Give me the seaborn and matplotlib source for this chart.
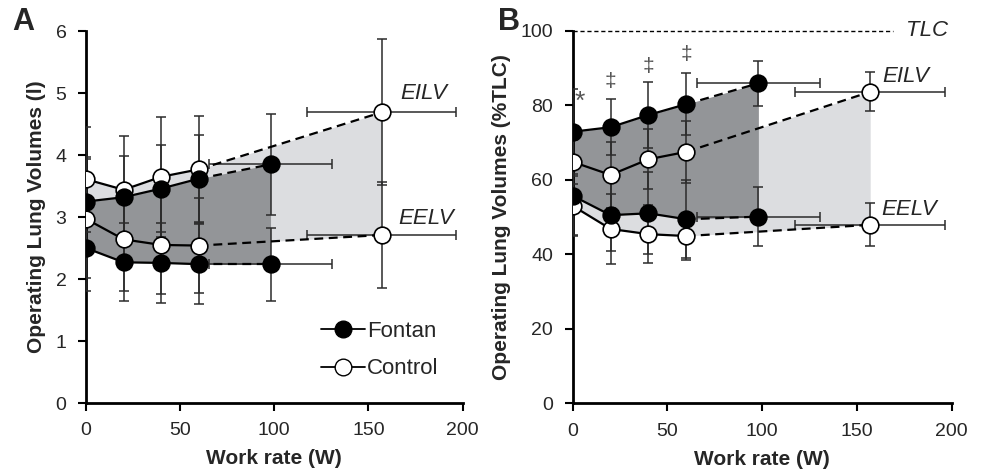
import matplotlib
matplotlib.use("Agg")
import matplotlib.pyplot as plt
from matplotlib.lines import Line2D
import seaborn as sns
import pandas as pd

# work rates (W); last point is peak exercise
work_fontan = [0, 20, 40, 60, 98]
work_control = [0, 20, 40, 60, 157]
peak_sd_fontan = 32.5
peak_sd_control = 39.5

# Panel A - absolute volumes (l)
a_fontan_eilv = [3.25, 3.32, 3.46, 3.62, 3.85]
a_fontan_eilv_sd = [0.72, 0.67, 0.70, 0.70, 0.82]
a_fontan_eelv = [2.50, 2.27, 2.26, 2.24, 2.24]
a_fontan_eelv_sd = [0.70, 0.63, 0.65, 0.64, 0.59]
a_control_eilv = [3.61, 3.44, 3.65, 3.77, 4.69]
a_control_eilv_sd = [0.85, 0.87, 0.97, 0.86, 1.18]
a_control_eelv = [2.97, 2.64, 2.55, 2.54, 2.71]
a_control_eelv_sd = [0.96, 0.84, 0.79, 0.77, 0.85]

# Panel B - % TLC
b_fontan_eilv = [72.9, 74.1, 77.4, 80.3, 85.9]
b_fontan_eilv_sd = [11.4, 7.5, 8.9, 8.4, 6.0]
b_fontan_eelv = [55.7, 50.5, 51.0, 49.4, 50.1]
b_fontan_eelv_sd = [10.5, 9.6, 11.0, 10.5, 8.0]
b_control_eilv = [64.8, 61.3, 65.5, 67.5, 83.6]
b_control_eilv_sd = [6.0, 8.9, 8.0, 8.3, 5.2]
b_control_eelv = [53.0, 46.8, 45.4, 44.9, 47.9]
b_control_eelv_sd = [8.0, 9.4, 7.8, 6.3, 5.8]

# significance marks in panel B
sig_x = [3.5, 20, 40, 60]
sig_y = [81.0, 86.3, 90.5, 93.5]
sig_labels = ["*", "\u2021", "\u2021", "\u2021"]
sig_sizes = [19, 15, 15, 15]

DARK = "#939598"
LIGHT = "#dcdde0"
ERR = "#2b2b2b"

sns.set_style("ticks")
plt.rcParams["font.family"] = ["Liberation Sans", "DejaVu Sans"]


def draw_group(ax, x, eilv, eilv_sd, eelv, eelv_sd, peak_sd, filled, fill_col, fz):
    ax.fill_between(x, eelv, eilv, color=fill_col, lw=0, zorder=fz)
    for y, sd in [(eilv, eilv_sd), (eelv, eelv_sd)]:
        ax.errorbar(x, y, yerr=sd, fmt="none", ecolor=ERR, elinewidth=1.1,
                    capsize=3.5, capthick=1.1, zorder=3)
        ax.errorbar(x[-1], y[-1], xerr=peak_sd, fmt="none", ecolor=ERR,
                    elinewidth=1.1, capsize=3.5, capthick=1.1, zorder=3)
        df = pd.DataFrame({"w": x[:4], "v": y[:4]})
        sns.lineplot(data=df, x="w", y="v", ax=ax, color="black", lw=1.6,
                     zorder=4, legend=False)
        ax.plot(x[3:], y[3:], color="black", lw=1.6, ls=(0, (4, 2.5)), zorder=4)
        ax.plot(x, y, ls="none", marker="o", ms=12,
                mfc="black" if filled else "white", mec="black", mew=1.2,
                zorder=5)


def style_axes(ax, ymax, ystep, ylabel):
    ax.set_xlim(0, 200)
    ax.set_ylim(0, ymax)
    ax.set_xticks([0, 50, 100, 150, 200])
    ax.set_yticks(range(0, ymax + 1, ystep))
    ax.tick_params(labelsize=14, width=1.5, length=6, color="black")
    ax.tick_params(axis="y", pad=8)
    ax.tick_params(axis="x", pad=8)
    for s in ["left", "bottom"]:
        ax.spines[s].set_linewidth(2)
        ax.spines[s].set_color("black")
    sns.despine(ax=ax)
    ax.set_xlabel("Work rate (W)", fontsize=15, fontweight="bold", labelpad=7)
    ax.set_ylabel(ylabel, fontsize=15, fontweight="bold", labelpad=7)


fig = plt.figure(figsize=(9.86, 4.69), dpi=100)
ax_a = fig.add_axes([0.0872, 0.1407, 0.382, 0.793])
ax_b = fig.add_axes([0.5808, 0.140, 0.3844, 0.7945])

# Panel A
draw_group(ax_a, work_control, a_control_eilv, a_control_eilv_sd,
           a_control_eelv, a_control_eelv_sd, peak_sd_control, False, LIGHT, 1)
draw_group(ax_a, work_fontan, a_fontan_eilv, a_fontan_eilv_sd,
           a_fontan_eelv, a_fontan_eelv_sd, peak_sd_fontan, True, DARK, 2)
style_axes(ax_a, 6, 1, "Operating Lung Volumes (l)")
ax_a.text(167, 5.0, "EILV", fontsize=16, style="italic", va="center")
ax_a.text(166, 2.98, "EELV", fontsize=16, style="italic", va="center")
handles = [
    Line2D([], [], color="black", lw=1.3, marker="o", ms=12, mfc="black", mec="black"),
    Line2D([], [], color="black", lw=1.3, marker="o", ms=12, mfc="white", mec="black"),
]
ax_a.legend(handles, ["Fontan", "Control"], loc="upper left",
            bbox_to_anchor=(0.57, 0.275), frameon=False, fontsize=16,
            handlelength=2.0, handletextpad=0.1, labelspacing=0.75)

# Panel B
draw_group(ax_b, work_control, b_control_eilv, b_control_eilv_sd,
           b_control_eelv, b_control_eelv_sd, peak_sd_control, False, LIGHT, 1)
draw_group(ax_b, work_fontan, b_fontan_eilv, b_fontan_eilv_sd,
           b_fontan_eelv, b_fontan_eelv_sd, peak_sd_fontan, True, DARK, 2)
style_axes(ax_b, 100, 20, "Operating Lung Volumes (%TLC)")
ax_b.plot([0, 169], [100, 100], color="black", lw=1, ls=(0, (3, 2)), zorder=3,
          clip_on=False)
ax_b.text(176, 100, "TLC", fontsize=16, style="italic", va="center")
ax_b.text(163.5, 87.7, "EILV", fontsize=16, style="italic", va="center")
ax_b.text(163, 51.9, "EELV", fontsize=16, style="italic", va="center")
for sx, sy, sl, ss in zip(sig_x, sig_y, sig_labels, sig_sizes):
    ax_b.text(sx, sy, sl, fontsize=ss, color="#555555", ha="center", va="center")

fig.text(0.012, 0.935, "A", fontsize=22, fontweight="bold")
fig.text(0.505, 0.935, "B", fontsize=22, fontweight="bold")

fig.savefig("out.png", dpi=100)
